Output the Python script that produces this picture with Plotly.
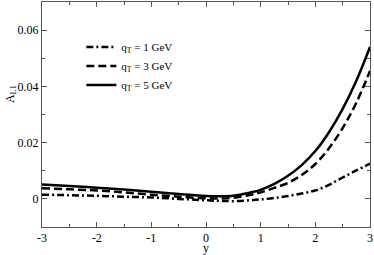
import plotly.graph_objects as go

y_vals = [-3, -2.5, -2, -1.5, -1, -0.5, 0, 0.25, 0.5, 0.8, 1, 1.25, 1.5, 1.75, 2, 2.25, 2.5, 2.75, 3]

a_q1 = [0.0015, 0.0013, 0.0011, 0.0008, 0.0005, 0.0000, -0.0005, -0.0007, -0.0008, -0.0005, -0.0002, 0.0003, 0.0010, 0.0019, 0.0030, 0.0050, 0.0076, 0.0101, 0.0125]
a_q3 = [0.0038, 0.0034, 0.0030, 0.0023, 0.0015, 0.0008, 0.0002, 0.0001, 0.0004, 0.0014, 0.0023, 0.0039, 0.0057, 0.0085, 0.0124, 0.0180, 0.0252, 0.0342, 0.0455]
a_q5 = [0.0051, 0.0046, 0.0040, 0.0033, 0.0025, 0.0017, 0.0010, 0.0009, 0.0011, 0.0022, 0.0032, 0.0053, 0.0082, 0.0120, 0.0170, 0.0237, 0.0320, 0.0420, 0.0540]

labels = ["q<sub>T</sub> = 1 GeV", "q<sub>T</sub> = 3 GeV", "q<sub>T</sub> = 5 GeV"]
dashes = ["7px,3px,2px,3px", "8px,4px", "solid"]

x_ticks = [-3, -2, -1, 0, 1, 2, 3]
y_ticks = [0, 0.02, 0.04, 0.06]
y_tick_text = ["0", "0.02", "0.04", "0.06"]

fig = go.Figure()
for vals, lab, d in zip([a_q1, a_q3, a_q5], labels, dashes):
    fig.add_trace(go.Scatter(x=y_vals, y=vals, mode="lines", name=lab,
                             line=dict(color="black", width=2.5, dash=d, shape="spline")))

font = dict(family="Liberation Serif, Times New Roman, serif", size=12, color="black")
axis_common = dict(showline=True, linecolor="#555555", linewidth=1, mirror="allticks",
                   ticks="inside", ticklen=5, tickcolor="#555555", showgrid=False, zeroline=False,
                   tickfont=font)
fig.update_layout(
    width=374, height=255,
    margin=dict(l=42, r=3, t=1, b=25),
    paper_bgcolor="white", plot_bgcolor="white",
    font=font,
    showlegend=True,
    legend=dict(x=0.12, y=0.865, xanchor="left", yanchor="top", bgcolor="rgba(0,0,0,0)",
                itemwidth=30, tracegroupgap=0, font=dict(family=font["family"], size=11, color="black")),
    xaxis=dict(range=[-3, 3], tickvals=x_ticks, ticktext=[str(t) for t in x_ticks],
               minor=dict(ticks="inside", ticklen=3, dtick=0.5, tickcolor="#555555"),
               title=dict(text="y", font=font, standoff=0), **axis_common),
    yaxis=dict(range=[-0.01, 0.07], tickvals=y_ticks, ticktext=y_tick_text,
               minor=dict(ticks="inside", ticklen=3, dtick=0.01, tickcolor="#555555"),
               **axis_common),
)
fig.add_annotation(text="A<sub>L1</sub>", xref="paper", yref="paper", x=-0.095, y=0.59,
                   xanchor="center", yanchor="middle",
                   showarrow=False, textangle=-90, font=font)
fig.write_html("out.html", config={"displayModeBar": False},
               post_script="document.body.style.margin='0';document.body.style.overflow='hidden';")
